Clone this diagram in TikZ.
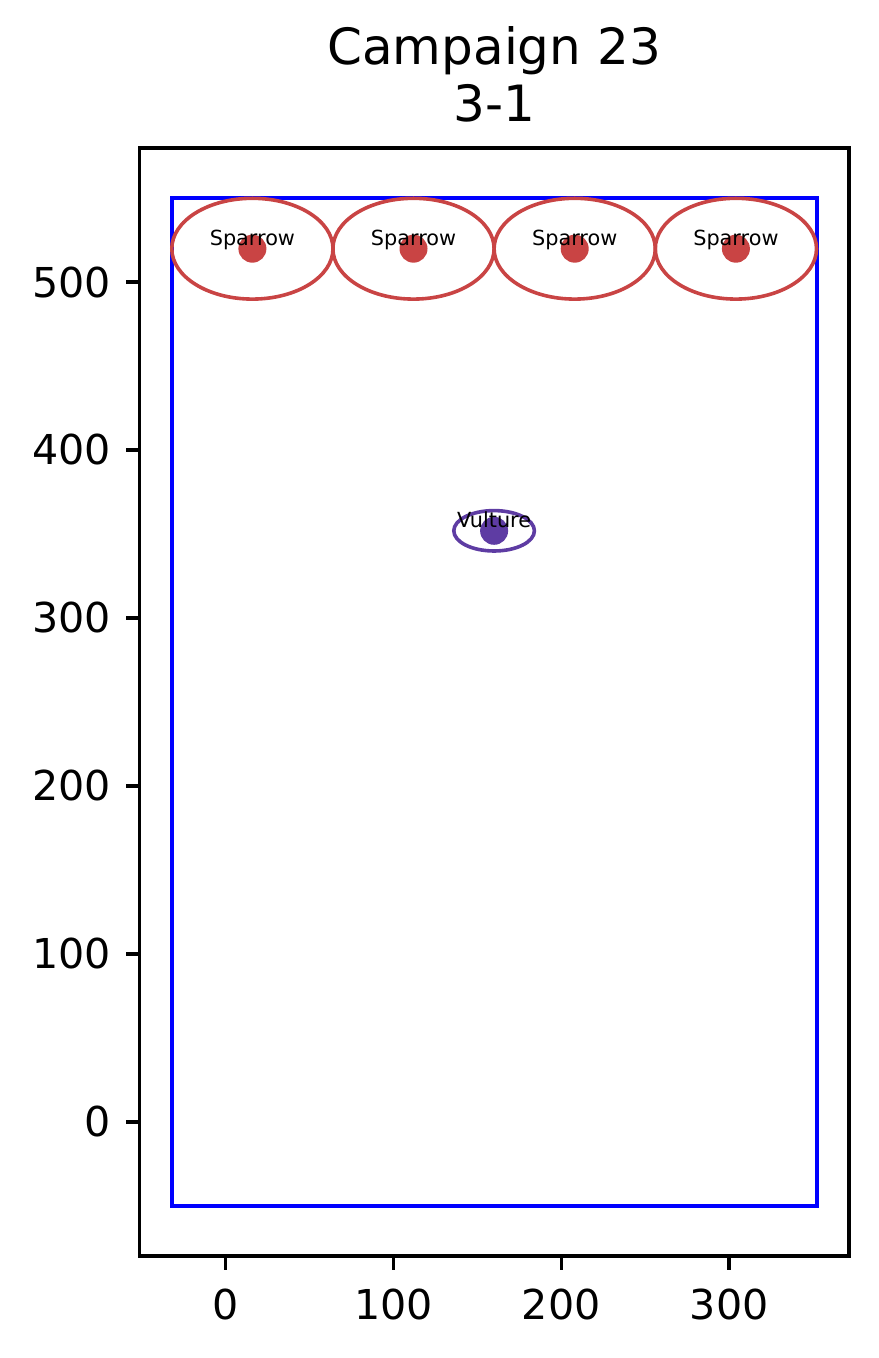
\documentclass[tikz,border=0pt]{standalone}
\usepackage{fontspec}
\setmainfont{DejaVu Sans}
\usetikzlibrary{shapes.geometric}
\definecolor{sparrowred}{RGB}{201,68,68}
\definecolor{vulturepurple}{RGB}{94,60,163}
\definecolor{frameblue}{RGB}{0,0,255}
\begin{document}
\begin{tikzpicture}[x=0.25pt,y=-0.25pt,
  axisline/.style={line width=0.9pt, draw=black},
  tickmark/.style={line width=0.9pt, draw=black},
  ticklabel/.style={font=\fontsize{10.3pt}{12pt}\selectfont, inner sep=0pt},
  titlelabel/.style={font=\fontsize{12.5pt}{15pt}\selectfont, inner sep=0pt, anchor=base},
  areabox/.style={draw=frameblue, line width=1pt},
  birdring/.style={draw, ellipse, inner sep=0pt, line width=0.9pt},
  birddot/.style={circle, inner sep=0pt, minimum size=7pt},
  birdlabel/.style={font=\fontsize{5.2pt}{6pt}\selectfont, inner sep=0pt, anchor=base},
]
\useasboundingbox (0,0) rectangle (878,1358);
% title
\node[titlelabel] (title1) at (494.1,65) {Campaign 23};
\node[titlelabel] (title2) at (494.1,121.7) {3-1};
% axes frame
\coordinate (axnw) at (139.5,148.0);
\coordinate (axse) at (848.7,1256.1);
\draw[axisline] (axnw) rectangle (axse);
% x ticks
\foreach \u in {0,100,200,300} {
  \pgfmathsetmacro\X{225.5+1.679*\u}
  \coordinate (xt\u) at (\X,1256.1);
  \draw[tickmark] (xt\u) -- ++(0,14);
  \node[ticklabel, anchor=base] (xl\u) at (\X,1319) {\u};
}
% y ticks
\foreach \v in {0,100,200,300,400,500} {
  \pgfmathsetmacro\Y{1121.8-1.679*\v}
  \coordinate (yt\v) at (139.5,\Y);
  \draw[tickmark] (yt\v) -- ++(-14,0);
  \node[ticklabel, anchor=base east] (yl\v) at (111.5,\Y+14.8) {\v};
}
% blue area
\coordinate (boxnw) at (171.8,198.3);
\coordinate (boxse) at (816.5,1205.75);
\draw[areabox] (boxnw) rectangle (boxse);
% sparrows
\foreach \i/\X in {1/252.4,2/413.5,3/574.7,4/735.9} {
  \node[birdring, draw=sparrowred, minimum width=40.3pt, minimum height=25.2pt] (ring\i) at (\X,248.7) {};
  \node[birddot, fill=sparrowred] (dot\i) at (\X,248.7) {};
  \node[birdlabel] (lab\i) at (\X,245.1) {Sparrow};
}
% vulture
\node[birdring, draw=vulturepurple, minimum width=20.15pt, minimum height=10.1pt] (ringv) at (494.1,530.8) {};
\node[birddot, fill=vulturepurple] (dotv) at (494.1,530.8) {};
\node[birdlabel] (labv) at (494.1,527.2) {Vulture};
\end{tikzpicture}
\end{document}
